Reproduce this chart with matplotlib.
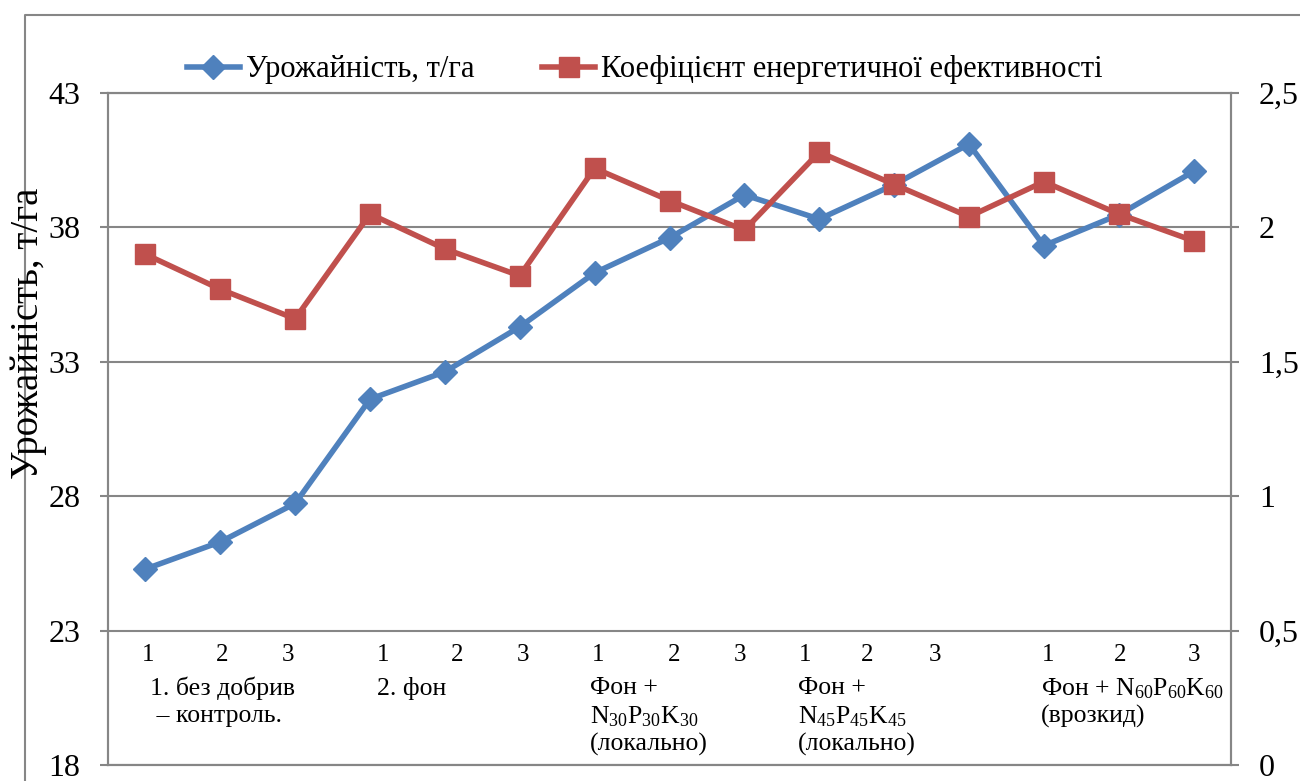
import matplotlib.pyplot as plt
from matplotlib.lines import Line2D

plt.rcParams['font.family'] = ['Liberation Serif', 'DejaVu Serif']
plt.rcParams['mathtext.fontset'] = 'custom'
plt.rcParams['mathtext.rm'] = 'Liberation Serif'
plt.rcParams['mathtext.it'] = 'Liberation Serif:italic'

# data
variants = ['1', '2', '3'] * 5
yield_t = [25.29, 26.30, 27.73, 31.61, 32.63, 34.30, 36.31, 37.61, 39.21,
           38.31, 39.59, 41.10, 37.32, 38.47, 40.08]
energy_coef = [1.90, 1.77, 1.66, 2.05, 1.92, 1.82, 2.22, 2.10, 1.99,
               2.28, 2.16, 2.04, 2.17, 2.05, 1.95]
group_names = [
    ['1. без добрив', ' – контроль.'],
    ['2. фон'],
    ['Фон +', r'N$_{30}$P$_{30}$K$_{30}$', '(локально)'],
    ['Фон +', r'N$_{45}$P$_{45}$K$_{45}$', '(локально)'],
    [r'Фон + N$_{60}$P$_{60}$K$_{60}$', '(врозкид)'],
]
left_ticks = [18, 23, 28, 33, 38, 43]
right_ticks = [0, 0.5, 1, 1.5, 2, 2.5]
right_labels = ['0', '0,5', '1', '1,5', '2', '2,5']

# label placement (excel put them a bit off the points)
variant_x = [0.03, 1.03, 1.90, 3.17, 4.16, 5.04, 6.05, 7.06, 7.94, 8.81,
             9.64, 10.55, 12.06, 13.02, 14.01]
group_x = [0.06, 3.09, 5.94, 8.72, 11.96]

blue = '#4F81BD'
red = '#C0504D'
grey = '#868686'
x = list(range(len(yield_t)))

fig = plt.figure(figsize=(13, 7.81), dpi=100)
ax = fig.add_axes([108 / 1300, 1 - 765 / 781, (1231 - 108) / 1300, (765 - 93) / 781])
ax2 = ax.twinx()

ax.plot(x, yield_t, color=blue, lw=4, marker='D', ms=12, label='Урожайність, т/га')
ax2.plot(x, energy_coef, color=red, lw=4, marker='s', ms=14,
         label='Коефіцієнт енергетичної ефективності')

ax.set_xlim(-0.5, 14.5)
ax.set_ylim(18, 43)
ax.set_yticks(left_ticks)
ax.set_xticks([])
ax.yaxis.grid(True, color=grey, lw=1.5)
ax2.set_ylim(0, 2.5)
ax2.set_yticks(right_ticks)
ax2.set_yticklabels(right_labels)

for a in (ax, ax2):
    for s in a.spines.values():
        s.set_color(grey)
        s.set_linewidth(1.5)
    a.tick_params(axis='y', length=6, width=1.5, color=grey, pad=14,
                  labelsize=23, direction='out')

# category labels inside the plot area
for xv, t in zip(variant_x, variants):
    ax.text(xv, 0.164, t, transform=ax.get_xaxis_transform(),
            ha='center', va='center', fontsize=18)
for gx, lines in zip(group_x, group_names):
    for i, line in enumerate(lines):
        ax.text(gx, 0.114 - i * 0.0415, line, transform=ax.get_xaxis_transform(),
                ha='left', va='center', fontsize=18.5)

fig.text(29 / 1300, 1 - 333 / 781, 'Урожайність, т/га', rotation=90,
         ha='center', va='center', fontsize=28)

h1, l1 = ax.get_legend_handles_labels()
h2, l2 = ax2.get_legend_handles_labels()
fig.legend(h1 + h2, l1 + l2, loc='center', bbox_to_anchor=(0.496, 1 - 70 / 781),
           ncol=2, frameon=False, fontsize=22, handlelength=1.75,
           handletextpad=0.2, columnspacing=2.2)

# chart area border (cut off at right and bottom)
fig.add_artist(Line2D([25 / 1300, 25 / 1300, 1.0], [0, 1 - 15 / 781, 1 - 15 / 781],
                      transform=fig.transFigure, color=grey, lw=1.5))

fig.savefig('out.png', dpi=100)
